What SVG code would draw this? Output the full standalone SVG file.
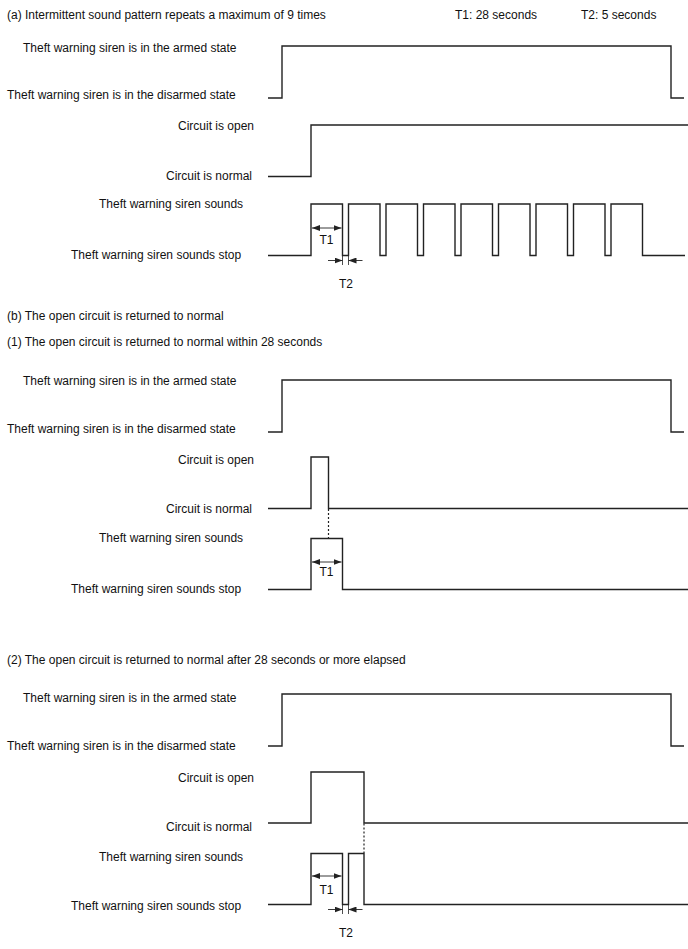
<svg xmlns="http://www.w3.org/2000/svg" width="688" height="949" viewBox="0 0 688 949">
<style>
text{font-family:"Liberation Sans",Arial,sans-serif;font-size:12px;fill:#111}
.w{fill:none;stroke:#222;stroke-width:1.4;stroke-linejoin:miter}
.a{fill:none;stroke:#222;stroke-width:0.9}
.t{fill:none;stroke:#222;stroke-width:0.8}
.d{fill:none;stroke:#222;stroke-width:1.2;stroke-dasharray:2,2}
</style>
<defs>
<marker id="ah" viewBox="0 0 8 6" refX="8" refY="3" markerWidth="8" markerHeight="6" markerUnits="userSpaceOnUse" orient="auto-start-reverse">
<path d="M0,0 L8,3 L0,6 Z" fill="#222"/>
</marker>
</defs>
<rect width="688" height="949" fill="#fff"/>

<g id="headers">
<text x="7" y="19">(a) Intermittent sound pattern repeats a maximum of 9 times</text>
<text x="455" y="19">T1: 28 seconds</text>
<text x="581" y="19">T2: 5 seconds</text>
<text x="7" y="320">(b) The open circuit is returned to normal</text>
<text x="7" y="346">(1) The open circuit is returned to normal within 28 seconds</text>
<text x="7" y="664">(2) The open circuit is returned to normal after 28 seconds or more elapsed</text>
</g>

<g id="section-a-labels">
<text x="23" y="52">Theft warning siren is in the armed state</text>
<text x="7" y="99">Theft warning siren is in the disarmed state</text>
<text x="178" y="130">Circuit is open</text>
<text x="166" y="180">Circuit is normal</text>
<text x="99" y="208">Theft warning siren sounds</text>
<text x="71" y="259">Theft warning siren sounds stop</text>
</g>
<g id="section-a-waves">
<path class="w" d="M268,98 H282 V46 H671 V98 H684"/>
<path class="w" d="M268,176.5 H311 V125 H688"/>
<path class="w" d="M268,255.5 H311 V204 H342.5 V255.5 H348.5 V204 H380 V255.5 H386 V204 H417.5 V255.5 H423.5 V204 H455 V255.5 H461 V204 H492.5 V255.5 H498.5 V204 H530 V255.5 H536 V204 H567.5 V255.5 H573.5 V204 H605 V255.5 H611 V204 H642.5 V255.5 H685"/>
</g>
<g id="section-a-timing">
<line class="a" x1="312" y1="228" x2="341.5" y2="228" marker-start="url(#ah)" marker-end="url(#ah)"/>
<text x="326.5" y="244" text-anchor="middle">T1</text>
<line class="t" x1="342.5" y1="256" x2="342.5" y2="265"/>
<line class="t" x1="348.5" y1="256" x2="348.5" y2="265"/>
<line class="a" x1="328" y1="260.5" x2="342.5" y2="260.5" marker-end="url(#ah)"/>
<line class="a" x1="362.5" y1="260.5" x2="348.5" y2="260.5" marker-end="url(#ah)"/>
<text x="346" y="288" text-anchor="middle">T2</text>
</g>

<g id="section-b1-labels">
<text x="23" y="385">Theft warning siren is in the armed state</text>
<text x="7" y="433">Theft warning siren is in the disarmed state</text>
<text x="178" y="464">Circuit is open</text>
<text x="166" y="513">Circuit is normal</text>
<text x="99" y="542">Theft warning siren sounds</text>
<text x="71" y="593">Theft warning siren sounds stop</text>
</g>
<g id="section-b1-waves">
<path class="w" d="M268,432 H282 V380 H671 V432 H684"/>
<path class="w" d="M268,508.5 H311 V457 H328.5 V508.5 H688"/>
<path class="w" d="M268,589.5 H311 V538.5 H342.5 V589.5 H688"/>
</g>
<g id="connectors-b1">
<line class="d" x1="328.5" y1="509" x2="328.5" y2="538"/>
<line class="a" x1="312" y1="562" x2="341.5" y2="562" marker-start="url(#ah)" marker-end="url(#ah)"/>
<text x="326.5" y="576" text-anchor="middle">T1</text>
</g>

<g id="section-b2-labels">
<text x="23" y="702">Theft warning siren is in the armed state</text>
<text x="7" y="750">Theft warning siren is in the disarmed state</text>
<text x="178" y="782">Circuit is open</text>
<text x="166" y="831">Circuit is normal</text>
<text x="99" y="861">Theft warning siren sounds</text>
<text x="71" y="910">Theft warning siren sounds stop</text>
</g>
<g id="section-b2-waves">
<path class="w" d="M268,746 H282 V694 H671 V746 H684"/>
<path class="w" d="M268,823 H311 V772 H364 V823 H688"/>
<path class="w" d="M268,904.5 H311 V853.5 H342.5 V904.5 H348.5 V853.5 H364 V904.5 H688"/>
</g>
<g id="connectors-b2">
<line class="d" x1="364" y1="823.5" x2="364" y2="853"/>
<line class="a" x1="312" y1="876" x2="341.5" y2="876" marker-start="url(#ah)" marker-end="url(#ah)"/>
<text x="326.5" y="894" text-anchor="middle">T1</text>
<line class="t" x1="342.5" y1="905" x2="342.5" y2="914"/>
<line class="t" x1="348.5" y1="905" x2="348.5" y2="914"/>
<line class="a" x1="328" y1="909.5" x2="342.5" y2="909.5" marker-end="url(#ah)"/>
<line class="a" x1="362.5" y1="909.5" x2="348.5" y2="909.5" marker-end="url(#ah)"/>
<text x="346" y="937" text-anchor="middle">T2</text>
</g>
</svg>
